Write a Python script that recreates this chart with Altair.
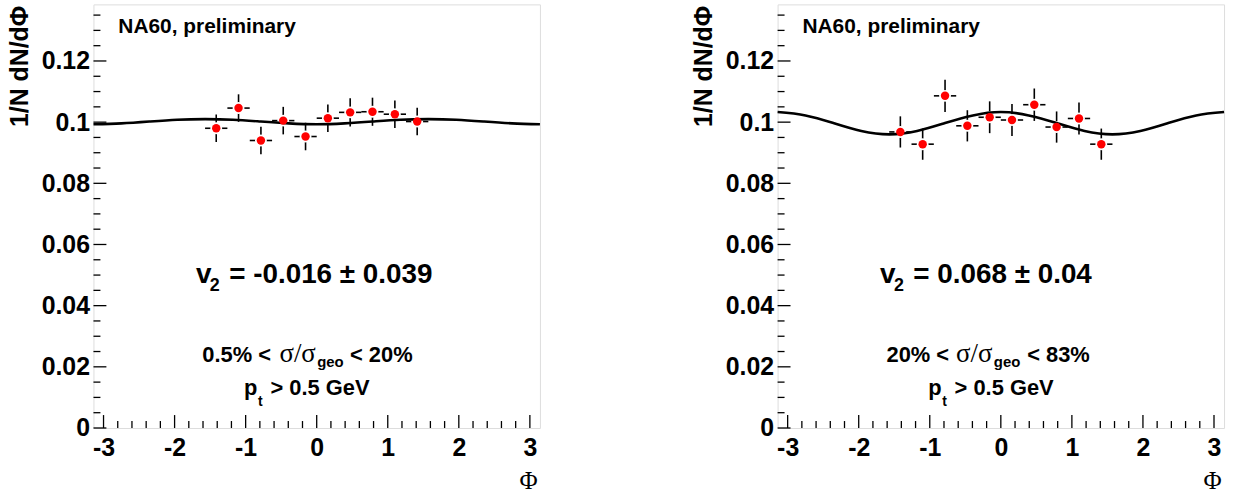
import altair as alt
import pandas as pd

# ---------------- data ----------------
phi_bins = [-1.414, -1.100, -0.785, -0.471, -0.157, 0.157, 0.471, 0.785, 1.100, 1.414]
phi_half = [0.157, 0.157, 0.157, 0.157, 0.157, 0.157, 0.157, 0.157, 0.157, 0.157]

left_y = [0.0980, 0.1046, 0.0940, 0.1005, 0.0953, 0.1013, 0.1032, 0.1034, 0.1026, 0.1002]
left_err = [0.0045, 0.0045, 0.0045, 0.0045, 0.0045, 0.0045, 0.0046, 0.0046, 0.0045, 0.0045]

right_y = [0.0968, 0.0928, 0.1086, 0.0988, 0.1016, 0.1007, 0.1057, 0.0984, 0.1012, 0.0928]
right_err = [0.0051, 0.0051, 0.0053, 0.0051, 0.0052, 0.0052, 0.0053, 0.0051, 0.0052, 0.0051]

curve_phi = [-3.1416, -2.7489, -2.3562, -1.9635, -1.5708, -1.1781, -0.7854, -0.3927, 0.0,
             0.3927, 0.7854, 1.1781, 1.5708, 1.9635, 2.3562, 2.7489, 3.1416]
left_curve = [0.0993, 0.0996, 0.1002, 0.1008, 0.1010, 0.1008, 0.1002, 0.0996, 0.0993,
              0.0996, 0.1002, 0.1008, 0.1010, 0.1008, 0.1002, 0.0996, 0.0993]
right_curve = [0.1033, 0.1022, 0.0997, 0.0971, 0.0960, 0.0971, 0.0997, 0.1022, 0.1033,
               0.1022, 0.0997, 0.0971, 0.0960, 0.0971, 0.0997, 0.1022, 0.1033]

x_major = [-3, -2, -1, 0, 1, 2, 3]
x_minor = [round(-3 + 0.2 * i, 1) for i in range(31) if i % 5]
y_major = [0, 0.02, 0.04, 0.06, 0.08, 0.1, 0.12]
y_minor = [round(0.005 * i, 3) for i in range(28) if i % 4]

y_title = "1/N dN/dΦ"
x_title = "Φ"
label_na60 = "NA60, preliminary"
left_v2 = "= -0.016 ± 0.039"
right_v2 = "= 0.068 ± 0.04"
left_cent = ["0.5% <", "< 20%"]
right_cent = ["20% <", "< 83%"]

W, H = 449, 426
SANS = "Liberation Sans"
SERIF = "Liberation Serif"

xscale = alt.Scale(domain=[-3.1416, 3.1416], nice=False, zero=False)
yscale = alt.Scale(domain=[0, 0.1385], nice=False, zero=False)

xaxis = alt.Axis(values=x_major, ticks=False, tickSize=0, domain=False, grid=False,
                 labelExpr="datum.value < 0 ? '-' + format(-datum.value, 'd') : format(datum.value, 'd')",
                 labelFont=SANS, labelFontWeight="bold", labelFontSize=25,
                 labelColor="black", labelPadding=8, title=x_title,
                 titleFont=SERIF, titleFontWeight="normal", titleFontSize=25,
                 titleColor="black", titleX=437, titleY=53, titleAlign="center",
                 titleBaseline="middle", labelFlush=False)
yaxis = alt.Axis(values=y_major, ticks=False, tickSize=0, domain=False, grid=False,
                 format=".2~f", labelFont=SANS, labelFontWeight="bold",
                 labelFontSize=25, labelColor="black", labelPadding=4,
                 title=y_title, titleFont=SANS, titleFontWeight="bold",
                 titleFontSize=25, titleColor="black", titleX=-74, titleY=1,
                 titleAngle=270, titleAlign="right", titleBaseline="middle")


def X(field):
    return alt.X(field, scale=xscale, axis=xaxis)


def Y(field):
    return alt.Y(field, scale=yscale, axis=yaxis)


def txt(s, x, y, size, font=SANS, weight="bold"):
    return alt.Chart(pd.DataFrame({"t": [s]})).mark_text(
        font=font, fontSize=size, fontWeight=weight, align="left",
        baseline="alphabetic", color="black"
    ).encode(text="t:N", x=alt.value(x), y=alt.value(y))


def panel(yv, err, curve, v2text, cent, pos):
    pts = pd.DataFrame({"phi": phi_bins, "y": yv, "e": err, "h": phi_half})
    cdf = pd.DataFrame({"phi": curve_phi, "y": curve})

    base = alt.Chart(pts)
    vbar = base.transform_calculate(lo="datum.y - datum.e", hi="datum.y + datum.e").mark_rule(
        color="black", strokeWidth=1.6).encode(x=X("phi:Q"), y=Y("lo:Q"), y2="hi:Q")
    hbar = base.transform_calculate(xl="datum.phi - datum.h", xh="datum.phi + datum.h").mark_rule(
        color="black", strokeWidth=1.6).encode(x=X("xl:Q"), x2="xh:Q", y=Y("y:Q"))
    ring = base.mark_circle(size=72, color="red", opacity=1, stroke="white",
                            strokeWidth=3.5).encode(x=X("phi:Q"), y=Y("y:Q"))
    line = alt.Chart(cdf).mark_line(color="black", strokeWidth=2.6,
                                    interpolate="natural").encode(x=X("phi:Q"), y=Y("y:Q"))
    dots = base.mark_circle(size=72, color="red", opacity=1).encode(x=X("phi:Q"), y=Y("y:Q"))

    xt_major = alt.Chart(pd.DataFrame({"v": x_major})).mark_rule(color="black", strokeWidth=1.3).encode(
        x=X("v:Q"), y=alt.value(H), y2=alt.value(H - 13))
    xt_minor = alt.Chart(pd.DataFrame({"v": x_minor})).mark_rule(color="black", strokeWidth=1.3).encode(
        x=X("v:Q"), y=alt.value(H), y2=alt.value(H - 7))
    yt_major = alt.Chart(pd.DataFrame({"v": y_major})).mark_rule(color="black", strokeWidth=1.3).encode(
        y=Y("v:Q"), x=alt.value(0), x2=alt.value(13))
    yt_minor = alt.Chart(pd.DataFrame({"v": y_minor})).mark_rule(color="black", strokeWidth=1.3).encode(
        y=Y("v:Q"), x=alt.value(0), x2=alt.value(7))

    texts = [
        txt(label_na60, 25, 29, 21),
        txt("v", pos["v"], 280, 28),
        txt("2", pos["v"] + 14, 288, 18),
        txt(v2text, 136.5, 280, 28),
        txt(cent[0], 109.5, 359.5, 22),
        txt("σ/σ", pos["sig"], 359.5, 27, SERIF, "normal"),
        txt("geo", pos["sig"] + 38, 364.5, 15),
        txt(cent[1], pos["lt"], 359.5, 22),
        txt("p", 151.5, 393, 22),
        txt("t", 165.5, 404, 14),
        txt("> 0.5 GeV", 178, 393, 22),
    ]

    return alt.layer(vbar, hbar, ring, line, dots, xt_major, xt_minor, yt_major, yt_minor,
                     *texts).properties(width=W, height=H)


left = panel(left_y, left_err, left_curve, left_v2, left_cent,
             {"v": 103, "sig": 187, "lt": 258})
right = panel(right_y, right_err, right_curve, right_v2, right_cent,
              {"v": 103, "sig": 179.5, "lt": 251})

chart = alt.hconcat(left, right, spacing=146).properties(
    padding={"left": 7, "top": 2, "right": 5, "bottom": 5}
).configure_view(stroke="black", strokeWidth=1.8).configure(background="white")

chart.save("out.html", embed_options={"renderer": "svg", "actions": False})
